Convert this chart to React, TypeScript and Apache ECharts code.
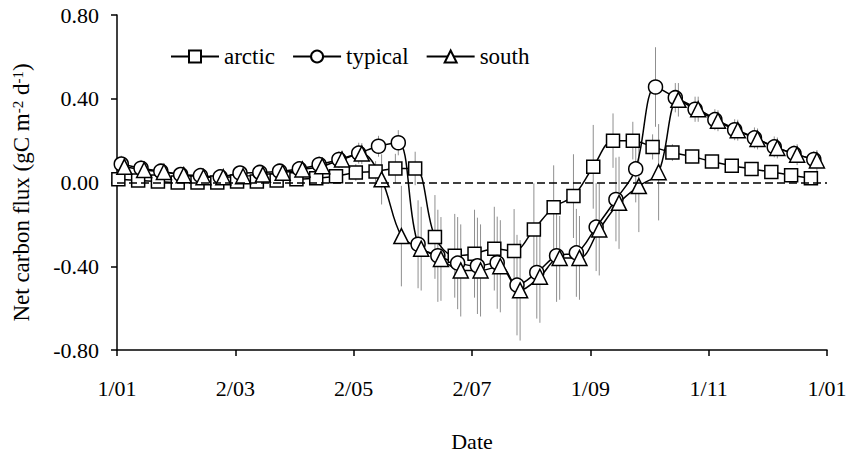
import React, { useEffect, useRef } from "react";
import * as echarts from "echarts";

// Date axis tick labels (one every 61 days)
const tickLabels = ["1/01", "2/03", "2/05", "2/07", "1/09", "1/11", "1/01"];

// Net carbon flux (gC m-2 d-1) per ~10-day period, with standard deviations
const arctic = [
  0.015, 0.01, 0.005, 0.0, 0.0, 0.0, 0.005, 0.005, 0.01, 0.015, 0.02, 0.03,
  0.048, 0.052, 0.067, 0.067, -0.26, -0.35, -0.34, -0.316, -0.327, -0.224,
  -0.118, -0.065, 0.075, 0.2, 0.2, 0.17, 0.143, 0.124, 0.1, 0.08, 0.065, 0.05,
  0.035, 0.02,
];
const arcticSd = [
  0.02, 0.02, 0.02, 0.02, 0.02, 0.02, 0.02, 0.02, 0.02, 0.02, 0.03, 0.03, 0.04,
  0.05, 0.07, 0.08, 0.2, 0.2, 0.21, 0.2, 0.2, 0.22, 0.2, 0.2, 0.2, 0.13, 0.09,
  0.06, 0.04, 0.03, 0.03, 0.03, 0.02, 0.02, 0.02, 0.02,
];
const typical = [
  0.088, 0.068, 0.054, 0.038, 0.033, 0.027, 0.045, 0.048, 0.054, 0.065, 0.086,
  0.11, 0.14, 0.173, 0.19, -0.295, -0.35, -0.385, -0.398, -0.383, -0.49,
  -0.43, -0.35, -0.336, -0.213, -0.081, 0.065, 0.456, 0.405, 0.35, 0.3, 0.252,
  0.213, 0.17, 0.138, 0.11,
];
const typicalSd = [
  0.04, 0.04, 0.035, 0.035, 0.035, 0.035, 0.035, 0.035, 0.035, 0.035, 0.04,
  0.04, 0.05, 0.05, 0.06, 0.21, 0.22, 0.22, 0.23, 0.22, 0.24, 0.22, 0.22, 0.21,
  0.21, 0.2, 0.16, 0.19, 0.07, 0.06, 0.05, 0.05, 0.05, 0.05, 0.04, 0.04,
];
const south = [
  0.075, 0.06, 0.05, 0.035, 0.025, 0.025, 0.03, 0.038, 0.047, 0.062, 0.078,
  0.11, 0.138, 0.015, -0.256, -0.316, -0.365, -0.42, -0.42, -0.4, -0.515,
  -0.45, -0.36, -0.36, -0.224, -0.097, -0.017, 0.049, 0.395, 0.35, 0.295, 0.25,
  0.208, 0.165, 0.133, 0.105,
];
const southSd = [
  0.035, 0.035, 0.035, 0.035, 0.035, 0.035, 0.035, 0.035, 0.035, 0.035, 0.04,
  0.04, 0.05, 0.12, 0.24, 0.2, 0.2, 0.22, 0.22, 0.22, 0.24, 0.22, 0.2, 0.2,
  0.22, 0.22, 0.22, 0.23, 0.08, 0.06, 0.05, 0.05, 0.05, 0.05, 0.05, 0.05,
];

const FONT = "'Liberation Serif', 'Times New Roman', serif";
const YEAR_DAYS = 366;
const TICK_DAYS = 61;
const STEP_DAYS = 10.2;

function toPoints(values: number[], startDay: number) {
  return values.map((v, i) => [startDay + i * STEP_DAYS, v]);
}

function toBars(values: number[], sd: number[], startDay: number) {
  return values.map((v, i) => [startDay + i * STEP_DAYS, v - sd[i], v + sd[i]]);
}

function errorSeries(values: number[], sd: number[], startDay: number) {
  return {
    type: "custom",
    silent: true,
    z: 1,
    data: toBars(values, sd, startDay),
    encode: { x: 0, y: [1, 2] },
    renderItem: (_params: any, api: any) => {
      const lo = api.coord([api.value(0), api.value(1)]);
      const hi = api.coord([api.value(0), api.value(2)]);
      return {
        type: "line",
        shape: { x1: lo[0], y1: lo[1], x2: hi[0], y2: hi[1] },
        style: { stroke: "#8f8f8f", lineWidth: 1 },
      };
    },
  };
}

function lineSeries(
  name: string,
  values: number[],
  startDay: number,
  symbol: string,
  symbolSize: number,
  extra: any = {}
) {
  return {
    name,
    type: "line",
    data: toPoints(values, startDay),
    smooth: 0.35,
    symbol,
    symbolSize,
    showAllSymbol: true,
    z: 3,
    lineStyle: { color: "#000", width: 1.5 },
    itemStyle: { color: "#fff", borderColor: "#000", borderWidth: 1.5 },
    emphasis: { disabled: true },
    ...extra,
  };
}

export default function App() {
  const ref = useRef<HTMLDivElement>(null);

  useEffect(() => {
    if (!ref.current) return;
    const chart = echarts.init(ref.current, undefined, { renderer: "svg" });
    chart.setOption({
      animation: false,
      backgroundColor: "#fff",
      textStyle: { fontFamily: FONT, color: "#000" },
      grid: { left: 117, right: 31, top: 15, bottom: 106 },
      legend: {
        data: ["arctic", "typical", "south"],
        left: 165,
        top: 40,
        itemWidth: 48,
        itemHeight: 15,
        itemGap: 17,
        textStyle: { fontFamily: FONT, fontSize: 23, color: "#000" },
      },
      xAxis: {
        type: "value",
        min: 0,
        max: YEAR_DAYS,
        interval: TICK_DAYS,
        name: "Date",
        nameLocation: "middle",
        nameGap: 80,
        nameTextStyle: { fontFamily: FONT, fontSize: 22, color: "#000" },
        axisLine: { onZero: false, lineStyle: { color: "#000", width: 1.5 } },
        axisTick: { inside: false, length: 6, lineStyle: { color: "#000", width: 1.5 } },
        axisLabel: {
          margin: 27,
          fontFamily: FONT,
          fontSize: 22,
          color: "#000",
          formatter: (v: number) => tickLabels[Math.round(v / TICK_DAYS)] ?? "",
        },
        splitLine: { show: false },
      },
      yAxis: {
        type: "value",
        min: -0.8,
        max: 0.8,
        interval: 0.4,
        name: "{a|Net carbon flux (gC m}{s|-2}{a| d}{s|-1}{a|)}",
        nameLocation: "middle",
        nameRotate: 90,
        nameGap: 84,
        nameTextStyle: {
          padding: [0, 20, 0, 0],
          rich: {
            a: { fontFamily: FONT, fontSize: 23, color: "#000" },
            s: { fontFamily: FONT, fontSize: 15, color: "#000", verticalAlign: "top", padding: [0, 0, 8, 0] },
          },
        },
        axisLine: { lineStyle: { color: "#000", width: 1.5 } },
        axisTick: { inside: false, length: 6, lineStyle: { color: "#000", width: 1.5 } },
        axisLabel: {
          margin: 18,
          fontFamily: FONT,
          fontSize: 22,
          color: "#000",
          formatter: (v: number) => v.toFixed(2),
        },
        splitLine: { show: false },
      },
      series: [
        errorSeries(arctic, arcticSd, 0.7),
        errorSeries(typical, typicalSd, 2.2),
        errorSeries(south, southSd, 3.8),
        lineSeries("arctic", arctic, 0.7, "rect", 13, {
          markLine: {
            silent: true,
            symbol: "none",
            label: { show: false },
            lineStyle: { color: "#000", type: [8, 4], width: 1.5 },
            data: [{ yAxis: 0 }],
          },
        }),
        lineSeries("typical", typical, 2.2, "circle", 14),
        lineSeries("south", south, 3.8, "triangle", 15),
      ],
    });
    return () => chart.dispose();
  }, []);

  return (
    <div
      ref={ref}
      style={{ position: "fixed", left: 0, top: 0, width: 858, height: 457 }}
    />
  );
}
